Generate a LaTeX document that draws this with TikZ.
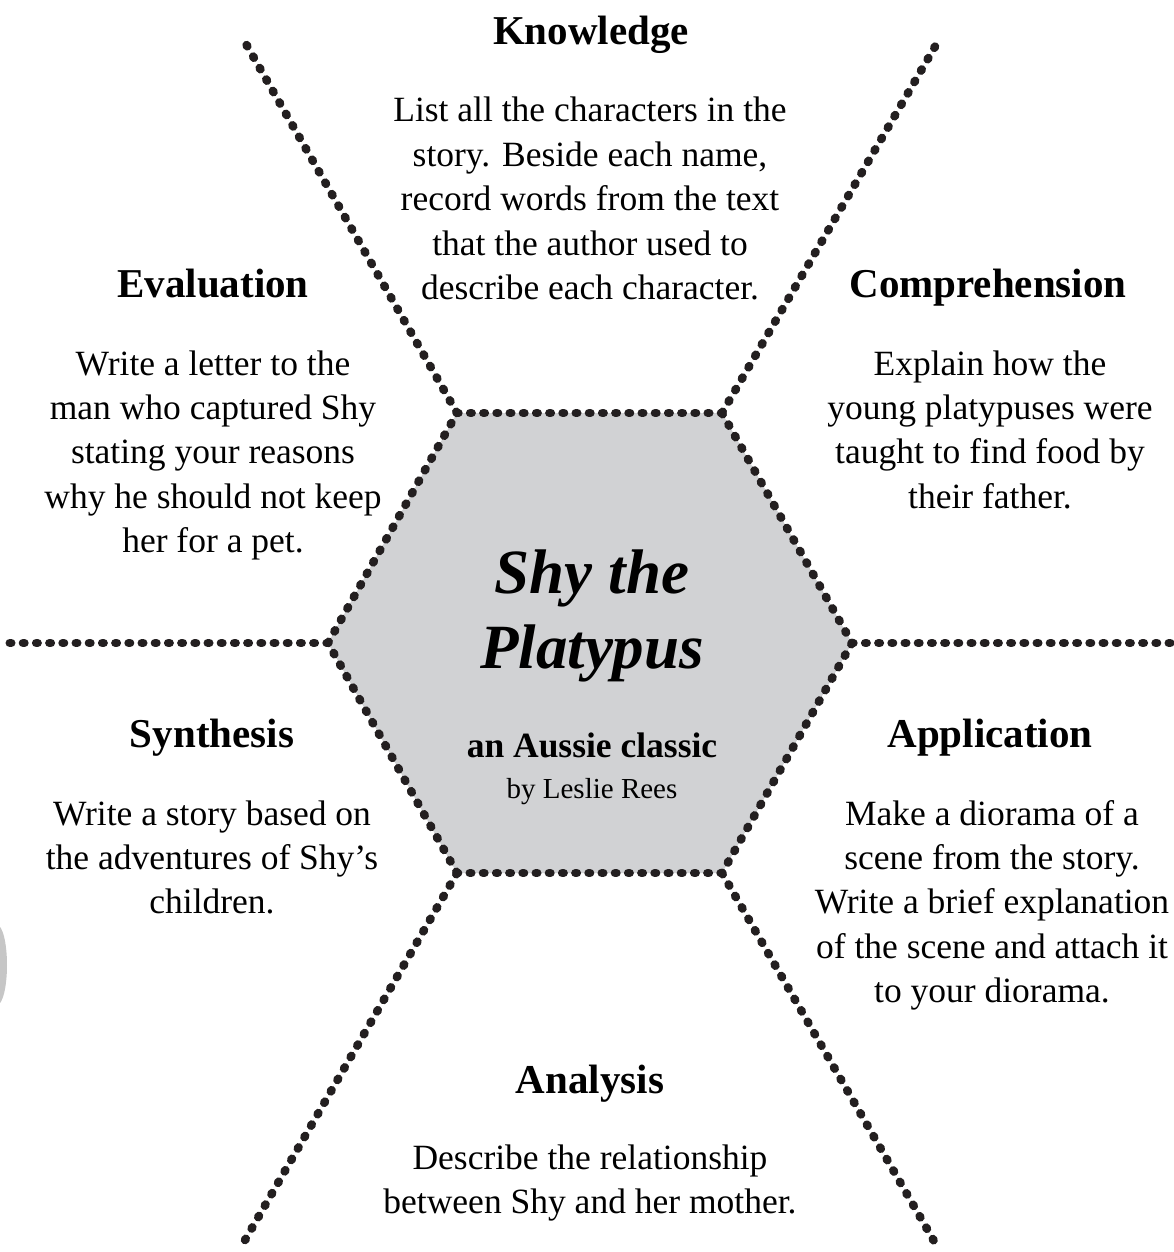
\documentclass[tikz,border=0pt]{standalone}
\usepackage{fontspec}
\setmainfont{Liberation Serif}
\definecolor{dotink}{HTML}{231F20}
\definecolor{hexfill}{HTML}{D1D2D4}
\definecolor{smudge}{HTML}{C6C6C6}
\newcommand\taskblock[1]{\parbox[t]{440pt}{\centering\fontsize{35.5}{44.4}\selectfont #1}}
\begin{document}
\begin{tikzpicture}[x=1pt,y=-1pt,
  dotline/.style={draw=dotink, line width=8.6pt, line cap=round, dash pattern=on 1.4pt off 11.8pt},
  heading/.style={anchor=base, inner sep=0pt, font=\fontsize{41}{48}\selectfont\bfseries},
  task/.style={anchor=base, inner sep=0pt}]
\useasboundingbox (0,0) rectangle (1174,1252);

% hexagon corners
\coordinate (hT1) at (457,413);
\coordinate (hT2) at (722,413);
\coordinate (hR)  at (852,643);
\coordinate (hB2) at (722,873);
\coordinate (hB1) at (457,873);
\coordinate (hL)  at (328,643);

% outer ends of the dividing rays
\coordinate (eTL) at (242,37);
\coordinate (eTR) at (940,38);
\coordinate (eR)  at (1182,643);
\coordinate (eBR) at (938,1248);
\coordinate (eBL) at (241,1247);
\coordinate (eL)  at (6,643);

% faint grey mark on the left margin
\fill[smudge] (-3,965) ellipse [x radius=10, y radius=40];

% central hexagon
\fill[hexfill] (hT1) -- (hT2) -- (hR) -- (hB2) -- (hB1) -- (hL) -- cycle;
\draw[dotline] (hT1) -- (hT2);
\draw[dotline] (hT2) -- (hR);
\draw[dotline] (hR) -- (hB2);
\draw[dotline] (hB2) -- (hB1);
\draw[dotline] (hB1) -- (hL);
\draw[dotline] (hL) -- (hT1);

% rays
\draw[dotline] (hT1) -- (eTL);
\draw[dotline] (hT2) -- (eTR);
\draw[dotline] (hR) -- (eR);
\draw[dotline] (hB2) -- (eBR);
\draw[dotline] (hB1) -- (eBL);
\draw[dotline] (hL) -- (eL);

% centre title
\node[anchor=base, inner sep=0pt, font=\fontsize{63}{75}\selectfont\bfseries\itshape] (title1) at (592,593) {Shy the};
\node[anchor=base, inner sep=0pt, font=\fontsize{63}{75}\selectfont\bfseries\itshape] (title2) at (592,668) {Platypus};
\node[anchor=base, inner sep=0pt, font=\fontsize{35.5}{42}\selectfont\bfseries] (sub1) at (592,757) {an Aussie classic};
\node[anchor=base, inner sep=0pt, font=\fontsize{29}{35}\selectfont] (sub2) at (592,798) {by Leslie Rees};

% Knowledge
\node[heading] (hKnow) at (591,45) {Knowledge};
\node[task] (tKnow) at (590,122) {\taskblock{List all the characters in the\\ story. Beside each name,\\ record words from the text\\ that the author used to\\ describe each character.}};

% Evaluation
\node[heading] (hEval) at (213,297) {Evaluation};
\node[task] (tEval) at (213,375) {\taskblock{Write a letter to the\\ man who captured Shy\\ stating your reasons\\ why he should not keep\\ her for a pet.}};

% Comprehension
\node[heading] (hComp) at (988,297) {Comprehension};
\node[task] (tComp) at (990,375) {\taskblock{Explain how the\\ young platypuses were\\ taught to find food by\\ their father.}};

% Synthesis
\node[heading] (hSyn) at (212,747) {Synthesis};
\node[task] (tSyn) at (212,825) {\taskblock{Write a story based on\\ the adventures of Shy's\\ children.}};

% Application
\node[heading] (hApp) at (990,747) {Application};
\node[task] (tApp) at (992,825) {\taskblock{Make a diorama of a\\ scene from the story.\\ Write a brief explanation\\ of the scene and attach it\\ to your diorama.}};

% Analysis
\node[heading] (hAna) at (590,1093) {Analysis};
\node[task] (tAna) at (590,1169) {\taskblock{Describe the relationship\\ between Shy and her mother.}};
\end{tikzpicture}
\end{document}
